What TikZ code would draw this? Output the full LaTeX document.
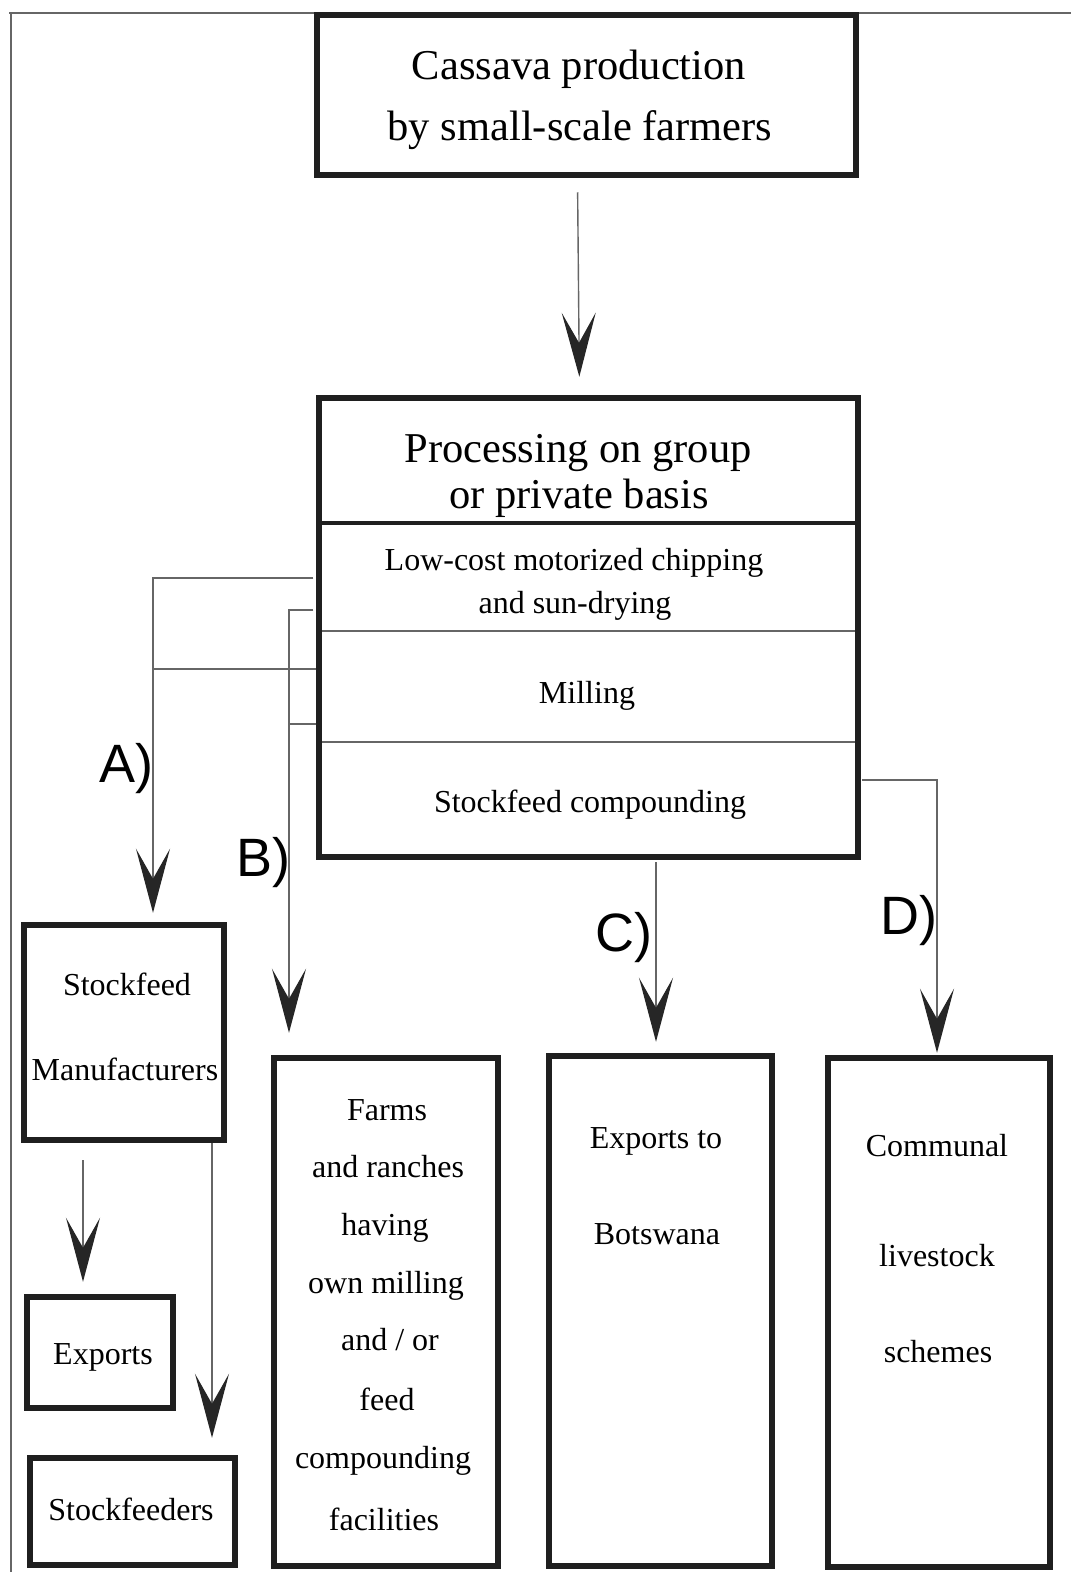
\documentclass[tikz,border=0pt]{standalone}
\usepackage{fontspec}
\setmainfont{Liberation Serif}
\newfontfamily\labfont{Liberation Sans}
\usetikzlibrary{arrows.meta}
\tikzset{
  box/.style={draw=black!88, line width=5.5pt, inner sep=0pt},
  conn/.style={draw=black!60, line width=1.4pt},
  arr/.style={conn, -{Stealth[length=64pt, width=34pt, inset=30pt, color=black!85]}},
  txt/.style={inner sep=0pt, text height=0.66em, text depth=0pt, yshift=-9pt, font=\fontsize{32}{38}\selectfont},
  big/.style={inner sep=0pt, text height=0.66em, text depth=0pt, yshift=-10pt, font=\fontsize{42.5}{50}\selectfont},
  lab/.style={inner sep=0pt, text height=0.716em, text depth=0pt, yshift=-17pt, font=\labfont\fontsize{54}{60}\selectfont},
}
\begin{document}
\begin{tikzpicture}[x=1pt,y=-1pt]
\useasboundingbox (0,0) rectangle (1071,1572);
\fill[white] (0,0) rectangle (1071,1572);
% frame
\draw[conn] (9,13) -- (1071,13);
\draw[conn] (11,13) -- (11,1572);

% boxes
\node (cas)   [box, minimum width=539pt, minimum height=160pt] at (586.5,95) {};
\node (proc)  [box, minimum width=539pt, minimum height=459pt] at (588.5,627.5) {};
\node (sfm)   [box, minimum width=200pt, minimum height=215pt] at (124,1032.5) {};
\node (exp)   [box, minimum width=146pt, minimum height=111pt] at (100,1352.5) {};
\node (sfd)   [box, minimum width=205pt, minimum height=107pt] at (132.5,1511.5) {};
\node (farms) [box, minimum width=224pt, minimum height=508pt] at (386,1312) {};
\node (bots)  [box, minimum width=223pt, minimum height=510pt] at (660.5,1311) {};
\node (comm)  [box, minimum width=222pt, minimum height=509pt] at (939,1312.5) {};

% dividers in processing box
\coordinate (d1) at (0,523);
\coordinate (d2) at (0,631);
\coordinate (d3) at (0,742);
\draw[draw=black!88, line width=4.5pt] (proc.west |- d1) -- (proc.east |- d1);
\draw[conn] ([xshift=6pt]proc.west |- d2) -- ([xshift=-6pt]proc.east |- d2);
\draw[conn] ([xshift=6pt]proc.west |- d3) -- ([xshift=-6pt]proc.east |- d3);

% texts
\node (t1) [big] at (579,66) {Cassava production};
\node (t2) [big] at (580,127) {by small-scale farmers};
\node (t3) [big] at (578,449) {Processing on group};
\node (t4) [big] at (579,495) {or private basis};
\node (t5) [txt] at (574,558) {Low-cost motorized chipping};
\node (t6) [txt] at (575,601) {and sun-drying};
\node (t7) [txt] at (587,691) {Milling};
\node (t8) [txt] at (590,800) {Stockfeed compounding};
\node (t9) [txt] at (127,983) {Stockfeed};
\node (t10) [txt] at (125,1068) {Manufacturers};
\node (t11) [txt] at (103,1352) {Exports};
\node (t12) [txt] at (131,1508) {Stockfeeders};
\node (f1) [txt] at (387,1108) {Farms};
\node (f2) [txt] at (388,1165) {and ranches};
\node (f3) [txt] at (385,1223) {having};
\node (f4) [txt] at (386,1281) {own milling};
\node (f5) [txt] at (390,1338) {and / or};
\node (f6) [txt] at (387,1398) {feed};
\node (f7) [txt] at (383,1456) {compounding};
\node (f8) [txt] at (384,1518) {facilities};
\node (b1) [txt] at (656,1136) {Exports to};
\node (b2) [txt] at (657,1232) {Botswana};
\node (c1) [txt] at (937,1144) {Communal};
\node (c2) [txt] at (937,1254) {livestock};
\node (c3) [txt] at (938,1350) {schemes};

% labels
\node (la) [lab] at (126,762) {A)};
\node (lb) [lab] at (263,856) {B)};
\node (lc) [lab] at (624,931) {C)};
\node (ld) [lab] at (909,914) {D)};

% connectors
\draw[arr, shorten <=14.5pt, shorten >=18.5pt] ([xshift=-9pt]cas.south) -- ([xshift=-9pt]proc.north);

\coordinate (aT) at (153,578);
\coordinate (aM) at (153,669);
\draw[arr, shorten <=3pt, shorten >=9.5pt] (proc.west |- aT) -- (aT) -- (aT |- sfm.north);
\draw[conn] (proc.west |- aM) -- (aM);

\coordinate (bT) at (289,610);
\coordinate (bM) at (289,724);
\draw[arr, shorten <=3pt, shorten >=22.5pt] (proc.west |- bT) -- (bT) -- (bT |- farms.north);
\draw[conn] (proc.west |- bM) -- (bM);

\coordinate (cX) at (656,0);
\draw[arr, shorten <=2.5pt, shorten >=11.5pt] (proc.south -| cX) -- (bots.north -| cX);

\coordinate (dT) at (937,780);
\draw[arr, shorten <=1.5pt, shorten >=2.5pt] (proc.east |- dT) -- (dT) -- (dT |- comm.north);

\coordinate (eX) at (83,0);
\draw[arr, shorten <=17.5pt, shorten >=12.5pt] (sfm.south -| eX) -- (exp.north -| eX);

\coordinate (sX) at (212,0);
\draw[arr, shorten >=17.5pt] (sfm.south -| sX) -- (sfd.north -| sX);
\end{tikzpicture}
\end{document}
